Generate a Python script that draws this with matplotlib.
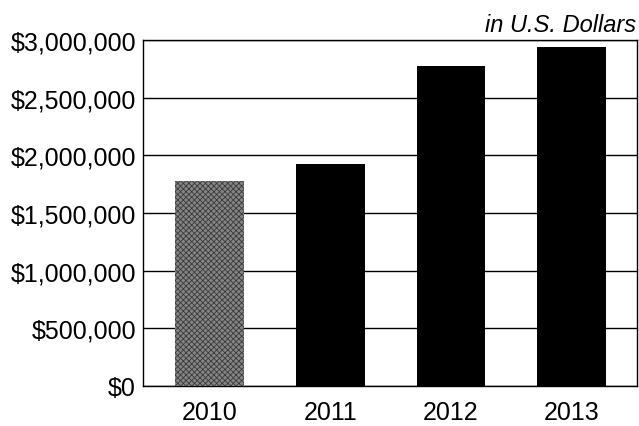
import matplotlib
matplotlib.use("Agg")
import matplotlib.pyplot as plt
from matplotlib.ticker import FuncFormatter

plt.rcParams["font.family"] = ["Liberation Sans", "DejaVu Sans"]
plt.rcParams["hatch.linewidth"] = 0.6

# Annual totals in U.S. dollars
years = ["2010", "2011", "2012", "2013"]
totals = [1_778_000, 1_925_000, 2_775_000, 2_940_000]
y_ticks = [0, 500_000, 1_000_000, 1_500_000, 2_000_000, 2_500_000, 3_000_000]

fig = plt.figure(figsize=(6.39, 4.27), dpi=100)
ax = fig.add_axes([143 / 639, 1 - 387 / 427, (637 - 143) / 639, (387 - 41) / 427])

x = range(len(years))
bars = ax.bar(x, totals, width=0.57, color="black", zorder=3, linewidth=0)
# first year printed as a grey screen
bars[0].set_facecolor("#858585")
bars[0].set_hatch("xxxxxx")
bars[0].set_edgecolor("#3a3a3a")

ax.set_xlim(-0.55, 3.54)
ax.set_ylim(0, 3_000_000)
ax.set_yticks(y_ticks)
ax.yaxis.set_major_formatter(FuncFormatter(lambda v, _: f"${v:,.0f}"))
ax.set_xticks(list(x))
ax.set_xticklabels(years)

ax.grid(axis="y", color="black", linewidth=1.0, zorder=0)
ax.tick_params(axis="both", length=0, labelsize=18, colors="black")
ax.tick_params(axis="y", pad=5)
ax.tick_params(axis="x", pad=10)
for s in ax.spines.values():
    s.set_color("black")
    s.set_linewidth(1.0)

fig.text(636 / 639, 1 - 32 / 427, "in U.S. Dollars", ha="right", va="baseline",
         fontsize=17, style="italic")

fig.savefig("out.png", dpi=100)
